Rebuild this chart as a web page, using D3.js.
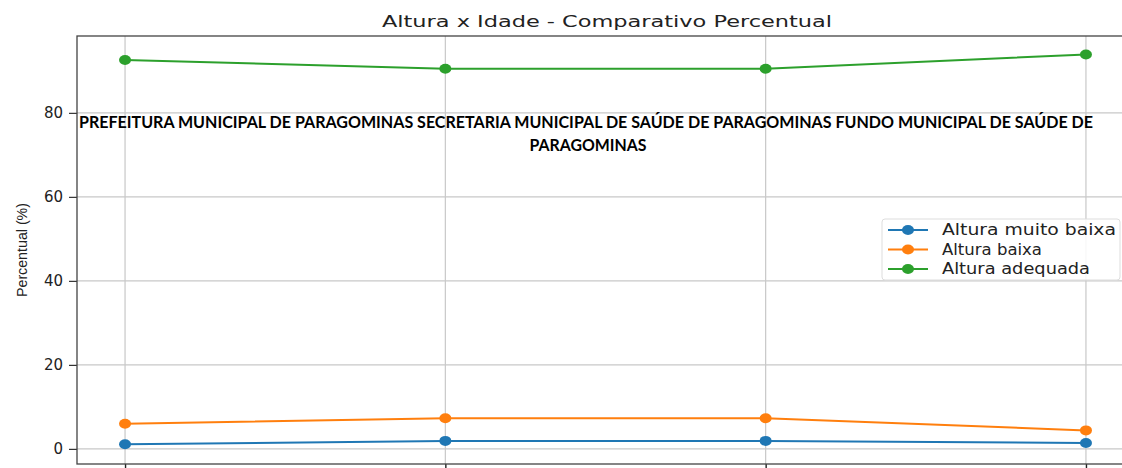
<!DOCTYPE html>
<html>
<head>
<meta charset="utf-8">
<script src="https://cdn.jsdelivr.net/npm/d3@7"></script>
<style>
  body { margin: 0; background: #fff; }
  svg { display: block; }
</style>
</head>
<body>
<div id="chart"></div>
<script>
// data (x tick labels are cut off in the reference)
var categories = ["P1", "P2", "P3", "P4"];
var seriesNames = ["Altura muito baixa", "Altura baixa", "Altura adequada"];
var muitoBaixa = [1.1, 1.9, 1.9, 1.4];
var baixa = [6.0, 7.3, 7.3, 4.4];
var adequada = [92.6, 90.5, 90.5, 93.9];
var yTicks = [0, 20, 40, 60, 80];
var colors = ["#1f77b4", "#ff7f0e", "#2ca02c"];

var series = [muitoBaixa, baixa, adequada];

var width = 1122, height = 468;
var svg = d3.select("#chart").append("svg")
    .attr("width", width).attr("height", height);

var x = d3.scalePoint().domain(categories).range([77, 1134]).padding(0.15);
var y = d3.scaleLinear().domain([-3.6, 98.3]).range([464, 36]);

// grid
svg.append("g").selectAll("line.vg")
    .data(categories).enter().append("line")
    .attr("x1", function(d) { return x(d); })
    .attr("x2", function(d) { return x(d); })
    .attr("y1", 36).attr("y2", 464)
    .style("stroke", "#c8c8c8").style("stroke-width", 1.2);
svg.append("g").selectAll("line.hg")
    .data(yTicks).enter().append("line")
    .attr("x1", 77).attr("x2", 1134)
    .attr("y1", function(d) { return y(d); })
    .attr("y2", function(d) { return y(d); })
    .style("stroke", "#c8c8c8").style("stroke-width", 1.2);

// axes
var yAxis = svg.append("g").attr("transform", "translate(77,0)")
    .call(d3.axisLeft(y).tickValues(yTicks).tickSize(8).tickPadding(6));
yAxis.select(".domain").remove();
yAxis.selectAll("line").style("stroke", "#333").style("stroke-width", 1.2);
yAxis.selectAll("text")
    .style("font-family", "DejaVu Sans").style("font-size", "15px")
    .style("fill", "#222");

// x tick labels fall below the visible area in the reference, keep only the ticks
var xAxis = svg.append("g").attr("transform", "translate(0,464)")
    .call(d3.axisBottom(x).tickSize(8).tickFormat(""));
xAxis.select(".domain").remove();
xAxis.selectAll("line").style("stroke", "#222").style("stroke-width", 1.4);

// frame
svg.append("rect")
    .attr("x", 77).attr("y", 36).attr("width", 1134 - 77).attr("height", 464 - 36)
    .style("fill", "none").style("stroke", "#444").style("stroke-width", 1.3);

// lines and markers
var line = d3.line()
    .x(function(d, i) { return x(categories[i]); })
    .y(function(d) { return y(d); });

series.forEach(function(s, k) {
    svg.append("path")
        .datum(s)
        .attr("d", line)
        .style("fill", "none")
        .style("stroke", colors[k])
        .style("stroke-width", 2);
    svg.selectAll("circle.s" + k)
        .data(s).enter().append("ellipse")
        .attr("cx", function(d, i) { return x(categories[i]); })
        .attr("cy", function(d) { return y(d); })
        .attr("rx", 6).attr("ry", 5)
        .style("fill", colors[k]);
});

// title
svg.append("text")
    .attr("x", 607).attr("y", 27)
    .attr("text-anchor", "middle")
    .attr("textLength", 450).attr("lengthAdjust", "spacingAndGlyphs")
    .style("font-family", "DejaVu Sans").style("font-size", "16px")
    .style("fill", "#222")
    .text("Altura x Idade - Comparativo Percentual");

// y label
svg.append("text")
    .attr("transform", "translate(27,250) rotate(-90)")
    .attr("text-anchor", "middle")
    .attr("textLength", 94).attr("lengthAdjust", "spacingAndGlyphs")
    .style("font-family", "Liberation Sans Narrow, Liberation Sans").style("font-size", "15px")
    .style("fill", "#222")
    .text("Percentual (%)");

// legend
var lg = svg.append("g");
lg.append("rect")
    .attr("x", 882).attr("y", 219).attr("width", 238).attr("height", 61)
    .attr("rx", 3)
    .style("fill", "#fff").style("fill-opacity", 0.85)
    .style("stroke", "#ddd");
seriesNames.forEach(function(n, k) {
    var yy = 230 + k * 19.5;
    lg.append("line")
        .attr("x1", 888).attr("x2", 928).attr("y1", yy).attr("y2", yy)
        .style("stroke", colors[k]).style("stroke-width", 2);
    lg.append("ellipse")
        .attr("cx", 908).attr("cy", yy).attr("rx", 6).attr("ry", 5)
        .style("fill", colors[k]);
    lg.append("text")
        .attr("x", 942).attr("y", yy + 5)
        .attr("textLength", [174, 100, 148][k]).attr("lengthAdjust", "spacingAndGlyphs")
        .style("font-family", "DejaVu Sans").style("font-size", "15px")
        .style("fill", "#222")
        .text(n);
});

// overlaid header text
svg.append("text")
    .attr("x", 586).attr("y", 128)
    .attr("text-anchor", "middle")
    .attr("textLength", 1014).attr("lengthAdjust", "spacingAndGlyphs")
    .style("font-family", "Lato").style("font-weight", "bold").style("font-size", "17px")
    .style("fill", "#000")
    .text("PREFEITURA MUNICIPAL DE PARAGOMINAS SECRETARIA MUNICIPAL DE SAÚDE DE PARAGOMINAS FUNDO MUNICIPAL DE SAÚDE DE");
svg.append("text")
    .attr("x", 588).attr("y", 151)
    .attr("text-anchor", "middle")
    .attr("textLength", 117).attr("lengthAdjust", "spacingAndGlyphs")
    .style("font-family", "Lato").style("font-weight", "bold").style("font-size", "17px")
    .style("fill", "#000")
    .text("PARAGOMINAS");
</script>
</body>
</html>
